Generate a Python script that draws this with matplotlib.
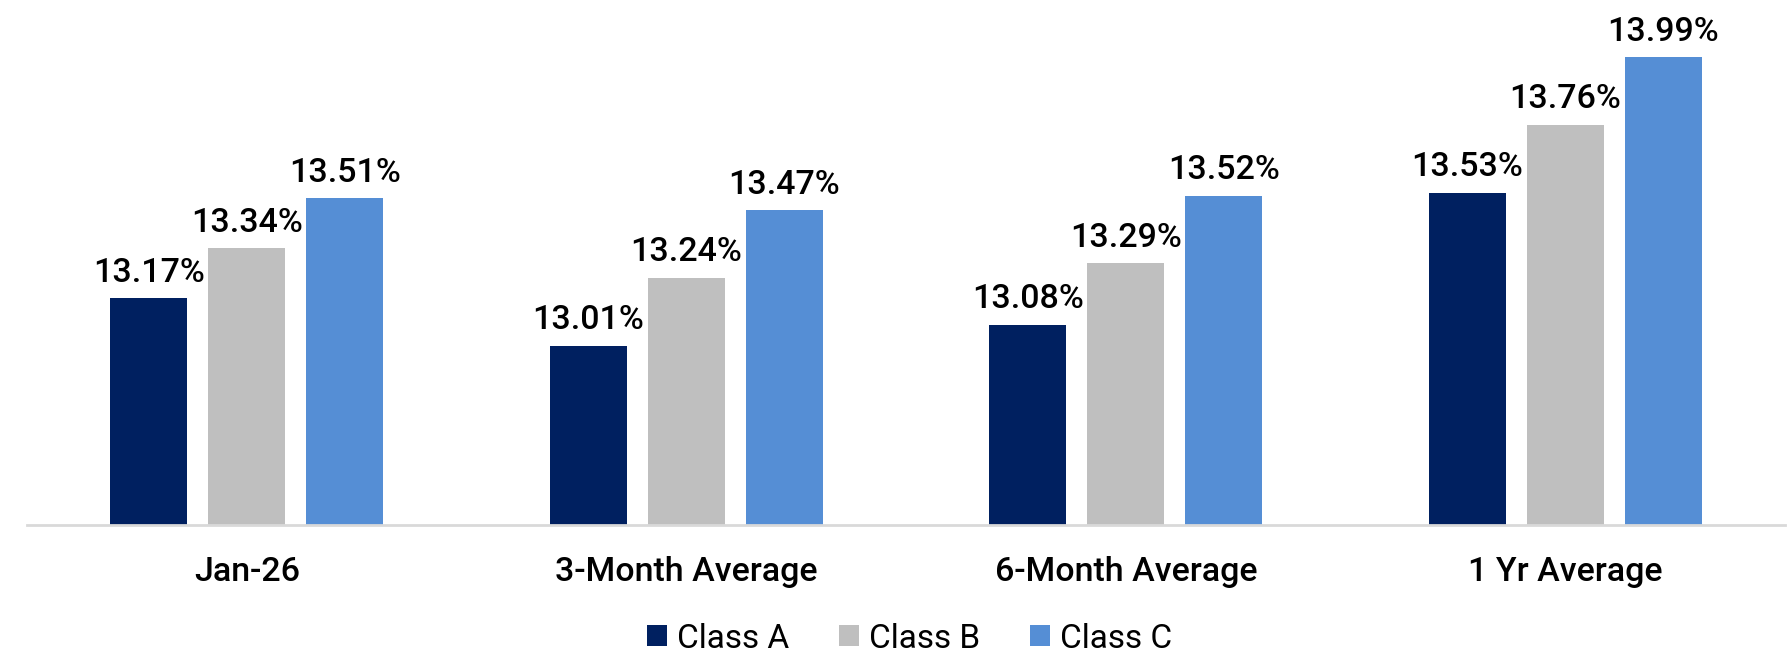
import numpy as np
import matplotlib
matplotlib.use('Agg')
import matplotlib.pyplot as plt

plt.rcParams['font.family'] = ['Roboto', 'DejaVu Sans']

categories = ['Jan-26', '3-Month Average', '6-Month Average', '1 Yr Average']
class_a = [13.17, 13.01, 13.08, 13.53]
class_b = [13.34, 13.24, 13.29, 13.76]
class_c = [13.51, 13.47, 13.52, 13.99]

series = [('Class A', class_a, '#002060'),
          ('Class B', class_b, '#BFBFBF'),
          ('Class C', class_c, '#558ED5')]

fig = plt.figure(figsize=(17.91, 6.55), dpi=100)
ax = fig.add_axes([0.0151, 0.1985, 0.9816, 0.741])

x = np.arange(len(categories))
pitch = 0.223
width = 0.175
base = 12.4

for i, (name, vals, color) in enumerate(series):
    pos = x + (i - 1) * pitch
    heights = np.array(vals) - base
    ax.bar(pos, heights, width=width, bottom=base, color=color, label=name, zorder=2)
    for p, v in zip(pos, vals):
        ax.annotate('%.2f%%' % v, (p, v), xytext=(0, 12), textcoords='offset points',
                    ha='center', va='baseline', fontsize=24.5, fontweight='medium',
                    color='black', annotation_clip=False)

ax.set_xlim(-0.5, 3.5)
ax.set_ylim(base, 14.05)
ax.set_xticks(x)
ax.set_xticklabels(categories, fontsize=24.5, fontweight='medium')
ax.tick_params(axis='x', length=0, pad=22)
ax.set_yticks([])
for s in ['top', 'right', 'left']:
    ax.spines[s].set_visible(False)
ax.spines['bottom'].set_color('#D9D9D9')
ax.spines['bottom'].set_linewidth(2)

fig.legend(loc='lower center', bbox_to_anchor=(0.508, -0.03), ncol=3, frameon=False,
           fontsize=24, handlelength=0.6, handleheight=0.6, handletextpad=0.3,
           columnspacing=1.5, borderpad=0.1)

fig.savefig('out.png', dpi=100)
